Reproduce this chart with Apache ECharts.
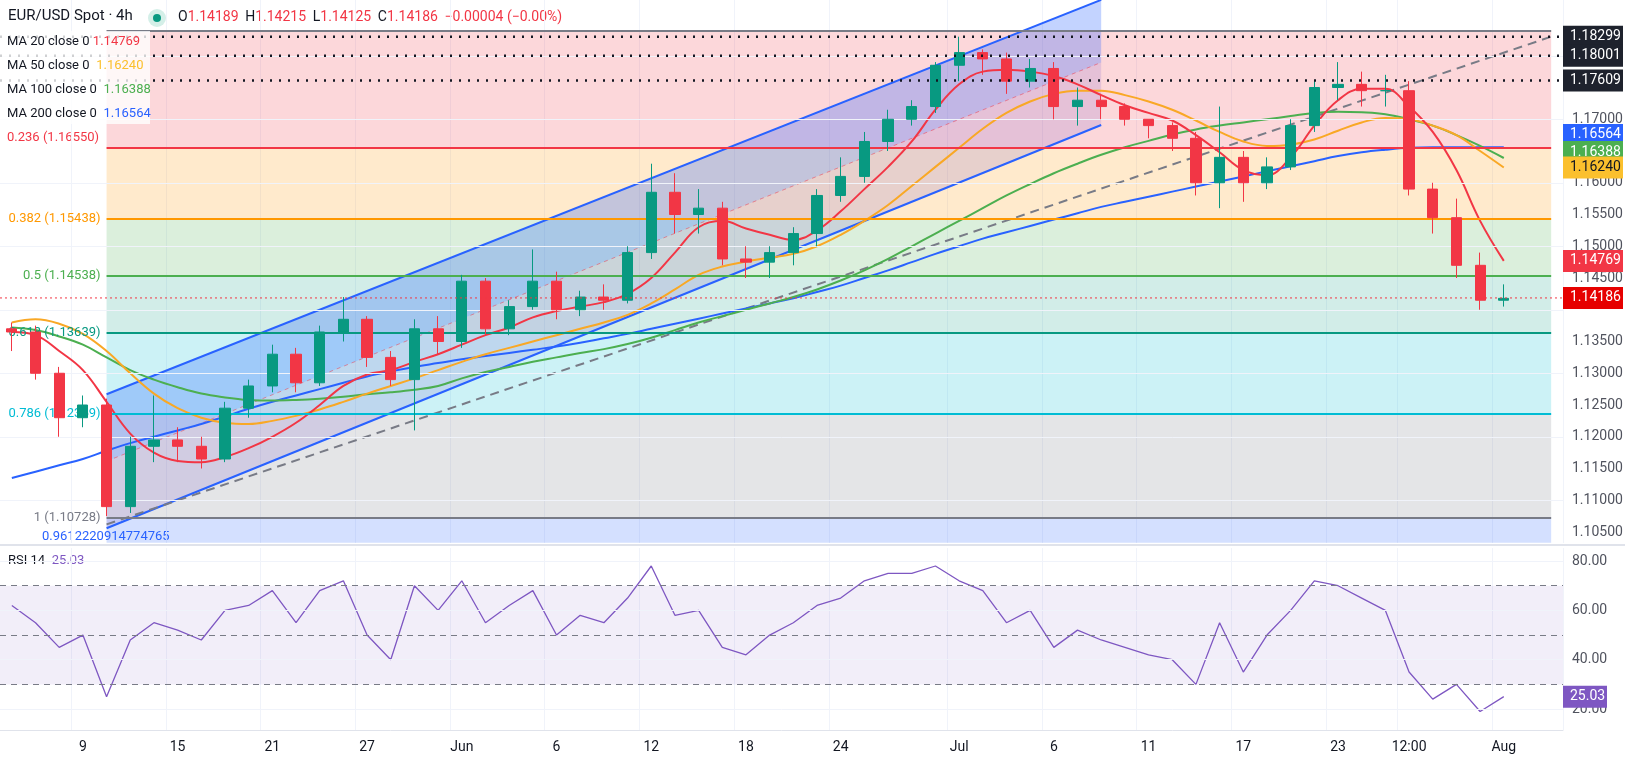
<!DOCTYPE html>
<html>
<head>
<meta charset="utf-8">
<script src="https://cdn.jsdelivr.net/npm/echarts@6/dist/echarts.min.js"></script>
<style>
  html, body { margin: 0; padding: 0; background: #fff; }
  #chart { width: 1625px; height: 761px; }
</style>
</head>
<body>
<div id="chart"></div>
<script>
var days = ['05-06','05-07','05-08','05-09','05-12','05-13','05-14','05-15','05-16','05-19','05-20','05-21','05-22','05-23',
  '05-26','05-27','05-28','05-29','05-30','06-02','06-03','06-04','06-05','06-06','06-09','06-10','06-11','06-12','06-13',
  '06-16','06-17','06-18','06-19','06-20','06-23','06-24','06-25','06-26','06-27','06-30','07-01','07-02','07-03','07-04',
  '07-07','07-08','07-09','07-10','07-11','07-14','07-15','07-16','07-17','07-18','07-21','07-22','07-23','07-24','07-25',
  '07-28','07-29','07-30','07-31','08-01','08-04','08-05'];

var tickText = {'05-09':'9','05-15':'15','05-21':'21','05-27':'27','06-02':'Jun','06-06':'6','06-12':'12','06-18':'18',
  '06-24':'24','07-01':'Jul','07-07':'6','07-11':'11','07-17':'17','07-23':'23','07-28':'12:00','08-01':'Aug'};

var opens = [1.1370,1.1365,1.1300,1.1230,1.1250,1.1090,1.1185,1.1195,1.1185,1.1165,1.1245,1.1280,1.1330,1.1285,1.1365,1.1385,1.1325,1.1290,1.1370,1.1350,1.1445,1.1370,1.1405,1.1445,1.1400,1.1420,1.1415,1.1490,1.1585,1.1550,1.1560,1.1480,1.1475,1.1490,1.1520,1.1580,1.1610,1.1665,1.1700,1.1720,1.1785,1.1805,1.1795,1.1760,1.1780,1.1720,1.1730,1.1720,1.1700,1.1690,1.1670,1.1600,1.1640,1.1600,1.1625,1.1690,1.1750,1.1755,1.1745,1.1745,1.1590,1.1545,1.1470,1.1415];
var closes = [1.1365,1.1300,1.1230,1.1250,1.1090,1.1185,1.1195,1.1185,1.1165,1.1245,1.1280,1.1330,1.1285,1.1365,1.1385,1.1325,1.1290,1.1370,1.1350,1.1445,1.1370,1.1405,1.1445,1.1400,1.1420,1.1415,1.1490,1.1585,1.1550,1.1560,1.1480,1.1475,1.1490,1.1520,1.1580,1.1610,1.1665,1.1700,1.1720,1.1785,1.1805,1.1795,1.1760,1.1780,1.1720,1.1730,1.1720,1.1700,1.1690,1.1670,1.1600,1.1640,1.1600,1.1625,1.1690,1.1750,1.1755,1.1745,1.1745,1.1590,1.1545,1.1470,1.1415,1.1418];
var highs = [1.1380,1.1375,1.1310,1.1265,1.1260,1.1200,1.1265,1.1215,1.1200,1.1255,1.1290,1.1345,1.1340,1.1375,1.1420,1.1390,1.1335,1.1385,1.1390,1.1455,1.1450,1.1415,1.1495,1.1460,1.1430,1.1440,1.1500,1.1630,1.1615,1.1590,1.1570,1.1500,1.1500,1.1530,1.1590,1.1640,1.1680,1.1715,1.1730,1.1790,1.1830,1.1810,1.1805,1.1795,1.1790,1.1750,1.1740,1.1725,1.1700,1.1695,1.1680,1.1720,1.1650,1.1640,1.1700,1.1760,1.1790,1.1775,1.1770,1.1760,1.1600,1.1575,1.1490,1.1440];
var lows = [1.1335,1.1290,1.1200,1.1215,1.1075,1.1080,1.1160,1.1160,1.1150,1.1160,1.1230,1.1270,1.1270,1.1280,1.1350,1.1310,1.1280,1.1210,1.1330,1.1340,1.1360,1.1360,1.1400,1.1385,1.1390,1.1400,1.1410,1.1480,1.1520,1.1520,1.1470,1.1450,1.1450,1.1470,1.1500,1.1570,1.1600,1.1650,1.1690,1.1710,1.1760,1.1770,1.1740,1.1750,1.1700,1.1690,1.1700,1.1690,1.1670,1.1650,1.1580,1.1560,1.1570,1.1590,1.1620,1.1680,1.1730,1.1720,1.1720,1.1580,1.1520,1.1450,1.1400,1.1405];

var ma20 = [1.1365,1.1360,1.1335,1.1305,1.1255,1.1205,1.1175,1.1162,1.1160,1.1168,1.1182,1.1200,1.1222,1.1250,1.1280,1.1298,1.1305,1.1318,1.1330,1.1345,1.1360,1.1372,1.1388,1.1398,1.1405,1.1412,1.1425,1.1450,1.1490,1.1530,1.1540,1.1528,1.1518,1.1510,1.1525,1.1555,1.1590,1.1625,1.1665,1.1715,1.1755,1.1775,1.1778,1.1775,1.1768,1.1755,1.1738,1.1722,1.1710,1.1698,1.1675,1.1648,1.1620,1.1612,1.1640,1.1690,1.1730,1.1748,1.1748,1.1720,1.1680,1.1620,1.1540,1.1477];
var ma50 = [1.1380,1.1385,1.1378,1.1362,1.1335,1.1300,1.1268,1.1245,1.1230,1.1222,1.1220,1.1225,1.1233,1.1243,1.1255,1.1268,1.1280,1.1292,1.1305,1.1318,1.1330,1.1340,1.1350,1.1360,1.1370,1.1380,1.1392,1.1410,1.1432,1.1455,1.1468,1.1476,1.1482,1.1488,1.1500,1.1518,1.1540,1.1565,1.1595,1.1625,1.1655,1.1685,1.1710,1.1728,1.1740,1.1745,1.1745,1.1738,1.1728,1.1715,1.1698,1.1680,1.1665,1.1658,1.1660,1.1668,1.1682,1.1695,1.1702,1.1700,1.1690,1.1675,1.1650,1.1624];
var ma100 = [1.1372,1.1368,1.1358,1.1345,1.1325,1.1305,1.1290,1.1278,1.1268,1.1262,1.1258,1.1257,1.1258,1.1260,1.1263,1.1267,1.1270,1.1274,1.1280,1.1292,1.1302,1.1310,1.1318,1.1325,1.1332,1.1338,1.1346,1.1356,1.1368,1.1380,1.1390,1.1400,1.1410,1.1420,1.1432,1.1446,1.1462,1.1480,1.1500,1.1520,1.1540,1.1560,1.1580,1.1598,1.1615,1.1630,1.1644,1.1656,1.1666,1.1676,1.1684,1.1690,1.1695,1.1700,1.1705,1.1710,1.1712,1.1711,1.1708,1.1700,1.1690,1.1675,1.1658,1.1639];
var ma200 = [1.1135,1.1145,1.1155,1.1165,1.1178,1.1190,1.1200,1.1210,1.1220,1.1232,1.1244,1.1255,1.1265,1.1275,1.1285,1.1295,1.1303,1.1310,1.1316,1.1322,1.1327,1.1332,1.1337,1.1342,1.1348,1.1355,1.1362,1.1370,1.1378,1.1386,1.1394,1.1402,1.1410,1.1418,1.1428,1.1438,1.1450,1.1462,1.1475,1.1488,1.1500,1.1512,1.1522,1.1532,1.1542,1.1552,1.1562,1.1570,1.1578,1.1586,1.1594,1.1602,1.1610,1.1618,1.1626,1.1634,1.1642,1.1648,1.1652,1.1655,1.1656,1.1656,1.1656,1.1656];
var rsi = [62,55,45,50,25,48,55,52,48,60,62,68,55,68,72,50,40,70,60,72,55,62,68,50,58,55,65,78,58,60,45,42,50,55,62,65,72,75,75,78,72,68,55,60,45,52,48,45,42,40,30,55,35,50,60,72,70,65,60,35,24,30,19,25.03];

var priceTicks = [1.105,1.11,1.115,1.12,1.125,1.13,1.135,1.14,1.145,1.15,1.155,1.16,1.165,1.17,1.175,1.18,1.185];
var rsiTicks = [20,40,60,80];
// fibonacci levels: [ratio, price, line colour, band colour]
var fibLevels = [
  ['0.236', 1.16550, '#f23645', 'rgba(242,54,69,0.2)'],
  ['0.382', 1.15438, '#ff9800', 'rgba(255,152,0,0.2)'],
  ['0.5', 1.14538, '#4caf50', 'rgba(76,175,80,0.2)'],
  ['0.618', 1.13639, '#089981', 'rgba(8,153,129,0.18)'],
  ['0.786', 1.12359, '#00bcd4', 'rgba(0,188,212,0.2)'],
  ['1', 1.10728, '#787b86', 'rgba(120,123,134,0.2)']
];
var fibTop = 1.1840, fibBottom = 1.1033;
// channel corners [categoryIndex, price]
var chLower = [[4, 1.1056], [46.4, 1.1691]];
var chUpper = [[4, 1.1267], [46.4, 1.1888]];
var trendLine = [[4, 1.1062], [65, 1.1830]];
var levels = [1.18299, 1.18001, 1.17609];
var lastPrice = 1.14186;
// right-scale badges: [value, background, text colour, label nudge px]
var badges = [
  [1.18299, '#1e222d', '#fff', 0],
  [1.18001, '#1e222d', '#fff', 0],
  [1.17609, '#1e222d', '#fff', 0],
  [1.16564, '#2962ff', '#fff', -12],
  [1.16388, '#4caf50', '#fff', -6],
  [1.16240, '#fbc02d', '#131722', 0],
  [1.14769, '#f23645', '#fff', 0],
  [1.14186, '#e60000', '#fff', 0]
];

var myChart = echarts.init(document.getElementById('chart'));
var FONT = 'Roboto, "Noto Sans", sans-serif';

var fibLines = fibLevels.map(function (f) {
  return [{xAxis: 4, yAxis: f[1], lineStyle: {color: f[2], width: 2, type: 'solid'},
    label: {show: f[0] !== '0.236', position: 'start', distance: 6, formatter: f[0] + ' (' + f[1].toFixed(5) + ')',
      color: f[2], fontSize: 13, fontFamily: FONT}},
    {xAxis: 65, yAxis: f[1]}];
});
fibLines.push([{xAxis: 4, yAxis: fibTop, lineStyle: {color: '#787b86', width: 2, type: 'solid'}, label: {show: false}},
  {xAxis: 65, yAxis: fibTop}]);
var fibBands = [];
var prev = fibTop;
fibLevels.forEach(function (f) {
  fibBands.push([{xAxis: 4, yAxis: prev, itemStyle: {color: f[3]}}, {xAxis: 65, yAxis: f[1]}]);
  prev = f[1];
});
fibBands.push([{xAxis: 4, yAxis: prev, itemStyle: {color: 'rgba(41,98,255,0.2)'}}, {xAxis: 65, yAxis: fibBottom}]);

function maSeries(name, data, color) {
  return {name: name, type: 'line', data: data, showSymbol: false, smooth: 0.4, z: 4,
    lineStyle: {color: color, width: 2}, silent: true};
}

function xLabelShow(i, v) { return tickText[v] !== undefined; }

var labelFont = function (c) { return {fill: c, font: '13px ' + FONT}; };

var baseGraphic = [
  {type: 'line', shape: {x1: 0, y1: 545, x2: 1625, y2: 545}, style: {stroke: '#e0e3eb', lineWidth: 2}},
  {type: 'rect', z: 30, shape: {x: 0, y: 31, width: 150, height: 93}, style: {fill: 'rgba(255,255,255,0.8)'}},
  {type: 'text', left: 8, top: 9, style: {text: 'EUR/USD Spot · 4h', fill: '#131722', font: '15px ' + FONT}},
  {type: 'circle', shape: {cx: 157, cy: 18, r: 9}, style: {fill: '#d4efe8'}},
  {type: 'circle', shape: {cx: 157, cy: 18, r: 4}, style: {fill: '#089981'}},
  {type: 'text', left: 178, top: 10, style: {rich: {k: {fill: '#131722', font: '14px ' + FONT}, v: {fill: '#f23645', font: '14px ' + FONT}},
    text: '{k|O}{v|1.14189}  {k|H}{v|1.14215}  {k|L}{v|1.14125}  {k|C}{v|1.14186}  {v|−0.00004 (−0.00%)}'}},
  {type: 'text', z: 31, left: 7, top: 35, style: {rich: {k: labelFont('#131722'), v: labelFont('#f23645')}, text: '{k|MA 20 close 0} {v|1.14769}'}},
  {type: 'text', z: 31, left: 7, top: 59, style: {rich: {k: labelFont('#131722'), v: labelFont('#fbc02d')}, text: '{k|MA 50 close 0}  {v|1.16240}'}},
  {type: 'text', z: 31, left: 7, top: 83, style: {rich: {k: labelFont('#131722'), v: labelFont('#4caf50')}, text: '{k|MA 100 close 0}  {v|1.16388}'}},
  {type: 'text', z: 31, left: 7, top: 107, style: {rich: {k: labelFont('#131722'), v: labelFont('#2962ff')}, text: '{k|MA 200 close 0}  {v|1.16564}'}},
  {type: 'text', left: 7, top: 131, style: {text: '0.236 (1.16550)', fill: '#f23645', font: '13px ' + FONT}},
  {type: 'text', left: 8, top: 554, style: {rich: {k: labelFont('#131722'), v: labelFont('#7e57c2')}, text: '{k|RSI 14}  {v|25.03}'}},
  {type: 'text', left: 42, top: 530, style: {text: '0.9612220914774765', fill: '#2962ff', font: '13px ' + FONT}}
];

option = {
  animation: false,
  grid: [
    {left: 0, right: 62, top: 0, height: 543},
    {left: 0, right: 62, top: 548, height: 182}
  ],
  xAxis: [
    {type: 'category', data: days, gridIndex: 0, boundaryGap: true, axisLabel: {show: false}, axisTick: {show: false},
      axisLine: {show: false}, splitLine: {show: true, interval: xLabelShow, lineStyle: {color: '#f0f3fa'}}},
    {type: 'category', data: days, gridIndex: 1, boundaryGap: true, axisTick: {show: false},
      axisLine: {show: true, lineStyle: {color: '#e0e3eb'}},
      splitLine: {show: true, interval: xLabelShow, lineStyle: {color: '#f0f3fa'}},
      axisLabel: {interval: xLabelShow, formatter: function (v) { return tickText[v]; }, color: '#131722',
        fontSize: 14, fontFamily: FONT, margin: 10}}
  ],
  yAxis: [
    {type: 'value', gridIndex: 0, min: 1.10327, max: 1.18878, position: 'right', axisLabel: {show: false},
      splitLine: {show: false}, axisLine: {show: false}, axisTick: {show: false}},
    {type: 'value', gridIndex: 1, min: 11.5, max: 85.3, position: 'right', axisLabel: {show: false},
      splitLine: {show: false}, axisLine: {show: false}, axisTick: {show: false}}
  ],
  graphic: baseGraphic,
  series: [
    {
      name: 'fib', type: 'line', data: [], xAxisIndex: 0, yAxisIndex: 0, silent: true,
      markArea: {silent: true, data: fibBands},
      markLine: {silent: true, symbol: 'none', data: priceTicks.map(function (v) {
        return {yAxis: v, lineStyle: {color: '#f0f3fa', width: 1, type: 'solid'}, label: {show: false}};
      }).concat(fibLines)}
    },
    {
      name: 'channel', type: 'custom', xAxisIndex: 0, yAxisIndex: 0, silent: true, z: 3, data: [0],
      renderItem: function (params, api) {
        var l0 = api.coord(chLower[0]), l1 = api.coord(chLower[1]);
        var u0 = api.coord(chUpper[0]), u1 = api.coord(chUpper[1]);
        var m0 = [l0[0], (l0[1] + u0[1]) / 2], m1 = [l1[0], (l1[1] + u1[1]) / 2];
        var t0 = api.coord(trendLine[0]), t1 = api.coord(trendLine[1]);
        return {type: 'group', children: [
          {type: 'polygon', shape: {points: [u0, u1, m1, m0]}, style: {fill: 'rgba(41,98,255,0.28)'}},
          {type: 'polygon', shape: {points: [m0, m1, l1, l0]}, style: {fill: 'rgba(120,90,200,0.18)'}},
          {type: 'line', shape: {x1: u0[0], y1: u0[1], x2: u1[0], y2: u1[1]}, style: {stroke: '#2962ff', lineWidth: 2}},
          {type: 'line', shape: {x1: l0[0], y1: l0[1], x2: l1[0], y2: l1[1]}, style: {stroke: '#2962ff', lineWidth: 2}},
          {type: 'line', shape: {x1: m0[0], y1: m0[1], x2: m1[0], y2: m1[1]}, style: {stroke: 'rgba(242,54,69,0.5)', lineWidth: 1, lineDash: [4, 4]}},
          {type: 'line', shape: {x1: t0[0], y1: t0[1], x2: t1[0], y2: t1[1]}, style: {stroke: '#787b86', lineWidth: 2, lineDash: [9, 6]}}
        ]};
      }
    },
    maSeries('MA200', ma200, '#2962ff'),
    maSeries('MA100', ma100, '#4caf50'),
    maSeries('MA50', ma50, '#f9a825'),
    maSeries('MA20', ma20, '#f23645'),
    {
      name: 'EUR/USD', type: 'candlestick', xAxisIndex: 0, yAxisIndex: 0, barWidth: '45%', z: 5,
      data: opens.map(function (o, i) { return [o, closes[i], lows[i], highs[i]]; }),
      itemStyle: {color: '#089981', color0: '#f23645', borderColor: '#089981', borderColor0: '#f23645'}
    },
    {
      name: 'RSI', type: 'line', xAxisIndex: 1, yAxisIndex: 1, data: rsi, showSymbol: false,
      lineStyle: {color: '#7e57c2', width: 1.3},
      markArea: {silent: true, data: [[{yAxis: 30, itemStyle: {color: 'rgba(126,87,194,0.1)'}}, {yAxis: 70}]]},
      markLine: {silent: true, symbol: 'none', data: [30, 50, 70].map(function (v) {
          return {yAxis: v, lineStyle: {color: '#787b86', type: [6, 5], width: 1}, label: {show: false}};
        }).concat(rsiTicks.map(function (v) {
          return {yAxis: v, lineStyle: {color: '#f0f3fa', width: 1, type: 'solid'}, label: {show: false}};
        }))}
    }
  ]
};

myChart.setOption(option);

// right price scale, level lines and badges placed through the axis scale
var scaleGraphic = [];
function py(v) { return myChart.convertToPixel({yAxisIndex: 0}, v); }
levels.forEach(function (v) {
  var y = py(v);
  scaleGraphic.push({type: 'line', z: 20, shape: {x1: 0, y1: y, x2: 1563, y2: y}, style: {stroke: '#131722', lineWidth: 2.5, lineDash: [2, 7]}});
});
var ly = py(lastPrice);
scaleGraphic.push({type: 'line', z: 20, shape: {x1: 0, y1: ly, x2: 1563, y2: ly}, style: {stroke: '#f23645', lineWidth: 1, lineDash: [2, 3]}});
var badgeYs = badges.map(function (b) { return py(b[0]) + b[3]; });
priceTicks.forEach(function (v) {
  var y = py(v);
  var clash = badgeYs.some(function (by) { return Math.abs(by - y) < 14; });
  if (!clash) {
    scaleGraphic.push({type: 'text', x: 1572, y: y, style: {text: v.toFixed(5), fill: '#50535e', font: '14px ' + FONT, verticalAlign: 'middle'}});
  }
});
badges.forEach(function (b, i) {
  scaleGraphic.push({type: 'rect', z: 21, shape: {x: 1563, y: badgeYs[i] - 11, width: 60, height: 22}, style: {fill: b[1]}});
  scaleGraphic.push({type: 'text', z: 22, x: 1570, y: badgeYs[i], style: {text: b[0].toFixed(5), fill: b[2], font: '14px ' + FONT, verticalAlign: 'middle'}});
});
rsiTicks.forEach(function (v) {
  var y = myChart.convertToPixel({yAxisIndex: 1}, v);
  scaleGraphic.push({type: 'text', x: 1572, y: y, style: {text: v.toFixed(2), fill: '#50535e', font: '14px ' + FONT, verticalAlign: 'middle'}});
});
var ry = myChart.convertToPixel({yAxisIndex: 1}, rsi[rsi.length - 1]);
scaleGraphic.push({type: 'rect', z: 21, shape: {x: 1563, y: ry - 11, width: 44, height: 22}, style: {fill: '#7e57c2'}});
scaleGraphic.push({type: 'text', z: 22, x: 1570, y: ry, style: {text: rsi[rsi.length - 1].toFixed(2), fill: '#fff', font: '14px ' + FONT, verticalAlign: 'middle'}});

myChart.setOption({graphic: baseGraphic.concat(scaleGraphic)});
</script>
</body>
</html>
